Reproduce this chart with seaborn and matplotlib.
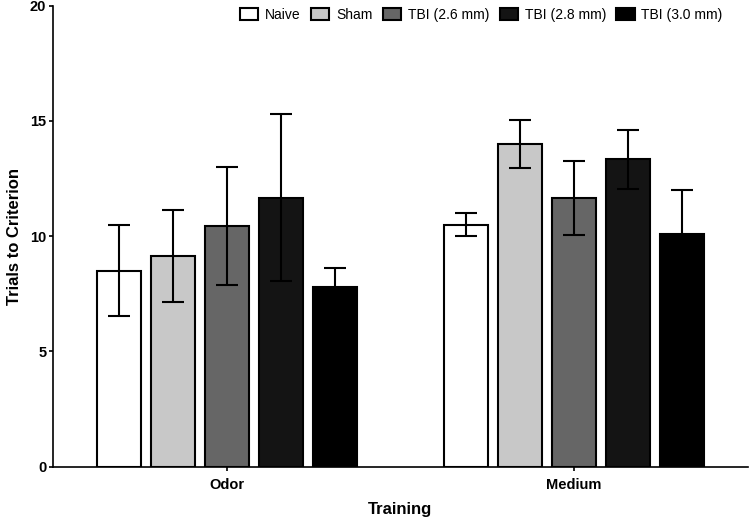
import pandas as pd
import seaborn as sns
import matplotlib.pyplot as plt
import numpy as np

training = ["Odor", "Medium"]
groups = ["Naive", "Sham", "TBI (2.6 mm)", "TBI (2.8 mm)", "TBI (3.0 mm)"]
odor_means = [8.5, 9.15, 10.45, 11.67, 7.78]
odor_err = [1.97, 2.0, 2.56, 3.63, 0.84]
medium_means = [10.5, 14.0, 11.67, 13.33, 10.1]
medium_err = [0.49, 1.06, 1.6, 1.3, 1.92]
colors = ["#ffffff", "#c8c8c8", "#666666", "#141414", "#000000"]

df = pd.DataFrame({
    "Training": np.repeat(training, len(groups)),
    "Group": groups * 2,
    "Trials": odor_means + medium_means,
    "Err": odor_err + medium_err,
})

sns.set_style("ticks")
plt.rcParams['font.family'] = ['Liberation Sans', 'DejaVu Sans']
for k in ["text.color", "axes.labelcolor", "xtick.color", "ytick.color",
          "axes.edgecolor"]:
    plt.rcParams[k] = "black"

fig, ax = plt.subplots(figsize=(7.5, 5.22), dpi=100)
fig.subplots_adjust(left=0.071, right=0.997, bottom=0.106, top=0.989)

sns.barplot(data=df, x="Training", y="Trials", hue="Group", order=training,
            hue_order=groups, palette=colors, width=0.778, gap=0.18,
            errorbar=None, edgecolor="black", linewidth=1.5, ax=ax)

# error bars at bar centres
for i, g in enumerate(groups):
    cont = ax.containers[i]
    sub = df[df["Group"] == g].set_index("Training").loc[training]
    xs = [p.get_x() + p.get_width() / 2 for p in cont.patches]
    ax.errorbar(xs, sub["Trials"], yerr=sub["Err"], fmt="none",
                ecolor="black", elinewidth=1.5, capsize=8, capthick=1.5,
                zorder=3)

ax.set_ylim(0, 20)
ax.set_xlim(-0.5, 1.5)
ax.set_yticks([0, 5, 10, 15, 20])
ax.tick_params(axis="both", width=1.2, length=3, pad=2, labelsize=10.5)
ax.tick_params(axis="x", pad=5)
for lbl in ax.get_xticklabels() + ax.get_yticklabels():
    lbl.set_fontweight("bold")
ax.set_ylabel("Trials to Criterion", fontsize=12, fontweight="bold", labelpad=6)
ax.set_xlabel("Training", fontsize=12, fontweight="bold", labelpad=7)
for s in ["left", "bottom"]:
    ax.spines[s].set_linewidth(1.2)
sns.despine(ax=ax)

ax.legend(ncol=5, frameon=False, loc="upper right",
          bbox_to_anchor=(0.972, 1.008), fontsize=10, handlelength=1.3,
          handleheight=0.9, handletextpad=0.5, columnspacing=0.75,
          borderaxespad=0)

plt.savefig("out.png", dpi=100)
